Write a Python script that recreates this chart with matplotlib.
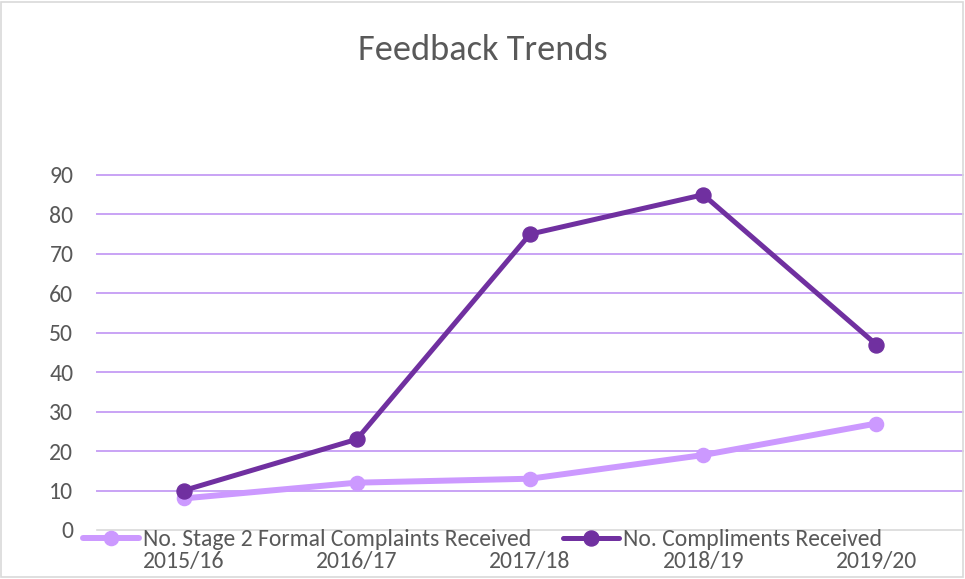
import matplotlib
matplotlib.use("Agg")
import matplotlib.pyplot as plt
from matplotlib.patches import Rectangle

years = ["2015/16", "2016/17", "2017/18", "2018/19", "2019/20"]
complaints = [8, 12, 13, 19, 27]
compliments = [10, 23, 75, 85, 47]
yticks = [0, 10, 20, 30, 40, 50, 60, 70, 80, 90]
title = "Feedback Trends"
name_complaints = "No. Stage 2 Formal Complaints Received"
name_compliments = "No. Compliments Received"

FAMILY = ['Carlito', 'Open Sans', 'DejaVu Sans']
plt.rcParams['font.family'] = FAMILY

LIGHT = "#CC99FF"
DARK = "#7030A0"
GRID = "#C9A3F5"
TEXT = "#595959"
DPI = 100

fig = plt.figure(figsize=(9.65, 5.79), dpi=DPI)
renderer = fig.canvas.get_renderer()


def fit_size(s, target_px):
    t = fig.text(0, 0, s, fontsize=10)
    w = t.get_window_extent(renderer).width
    t.remove()
    return 10 * target_px / w


fs_title = fit_size(title, 250)
fs_tick = fit_size("2015/16", 82)
fs_leg = (fit_size(name_complaints, 389) + fit_size(name_compliments, 258)) / 2

fig.patches.append(Rectangle((0.0015, 0.003), 0.996, 0.994, transform=fig.transFigure,
                             fill=False, edgecolor="#D9D9D9", linewidth=1.2))

ax = fig.add_axes([97 / 965, 1 - 530 / 579, 866 / 965, 355 / 579])
x = list(range(len(years)))
l1, = ax.plot(x, complaints, color=LIGHT, linewidth=4.3, marker='o', markersize=10.2,
              label=name_complaints, solid_capstyle='round', zorder=3)
l2, = ax.plot(x, compliments, color=DARK, linewidth=3.6, marker='o', markersize=10.8,
              label=name_compliments, solid_capstyle='round', zorder=4)

ax.set_xlim(-0.5, 4.5)
ax.set_ylim(0, 90)
ax.set_yticks(yticks)
ax.set_yticklabels([str(v) for v in yticks])
ax.set_xticks(x)
ax.set_xticklabels(years)
for yv in yticks[1:]:
    ax.axhline(yv, color=GRID, linewidth=1.4, zorder=1, clip_on=False)
ax.axhline(0, color="#D9D9D9", linewidth=1.2, zorder=1, clip_on=False)
for s in ax.spines.values():
    s.set_visible(False)
ax.tick_params(axis='both', length=0, colors=TEXT, labelsize=fs_tick)
ax.tick_params(axis='x', pad=15)
ax.tick_params(axis='y', pad=17)

fig.text(483 / 965, 1 - 60 / 579, title, ha='center', va='baseline', fontsize=fs_title, color=TEXT)

em = fs_leg * DPI / 72
fig.legend(handles=[l1, l2], loc='center left', bbox_to_anchor=(83 / 965, 1 - 540 / 579), ncol=2,
           frameon=False, fontsize=fs_leg, labelcolor=TEXT, handlelength=56 / em,
           handletextpad=4 / em, columnspacing=32 / em, borderaxespad=0, borderpad=0)

fig.savefig("out.png", dpi=DPI)
